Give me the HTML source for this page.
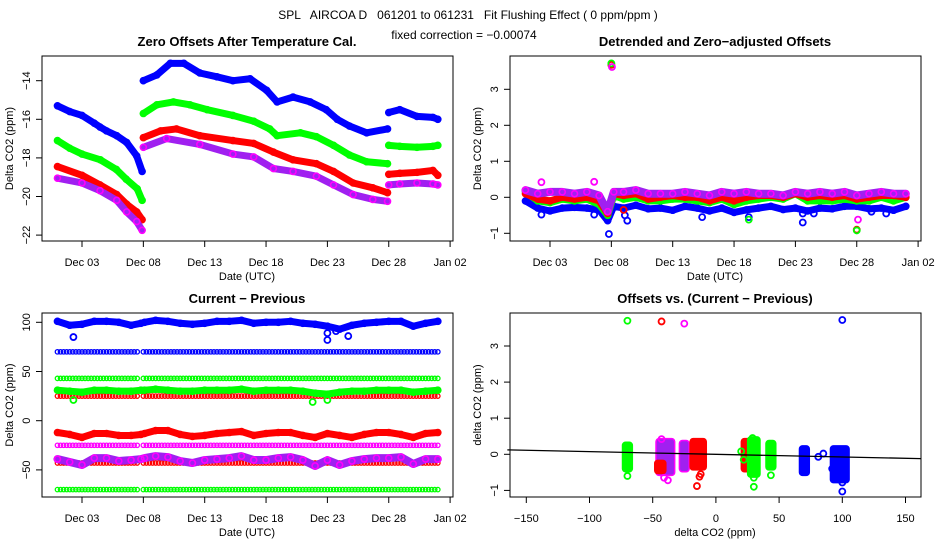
<!DOCTYPE html>
<html><head><meta charset="utf-8"><title>SPL AIRCOA D Fit Flushing Effect</title>
<style>
html,body{margin:0;padding:0;background:#fff;}
svg{display:block;font-family:"Liberation Sans",sans-serif;}
</style></head>
<body>
<svg id="chart" width="936" height="540" viewBox="0 0 936 540" xmlns="http://www.w3.org/2000/svg">
<rect width="936" height="540" fill="#fff"/>
<text x="468" y="19" font-size="12" text-anchor="middle" xml:space="preserve">SPL   AIRCOA D   061201 to 061231   Fit Flushing Effect ( 0 ppm/ppm )</text>
<text x="464" y="39" font-size="12" text-anchor="middle">fixed correction = −0.00074</text>
</svg>
<script>
// ---------- DATA ----------
const p1BlueDays  = [1,2,3,4,4.47,5,5.83,6.64,7.46,7.9,null,8.0,9.1,10.2,11.3,12.6,14.0,15.3,16.7,18.05,18.9,20.2,21.6,22.9,23.8,24.8,26.2,27.9,null,28.0,28.9,30.3,31.6,32.0];
const p1BlueVals  = [-15.3,-15.6,-15.8,-16.2,-16.4,-16.6,-16.85,-17.2,-17.9,-18.7,null,-14.0,-13.7,-13.1,-13.1,-13.6,-13.8,-14.0,-13.9,-14.5,-15.1,-14.85,-15.1,-15.5,-16.0,-16.35,-16.7,-16.5,null,-15.65,-15.5,-15.85,-15.9,-16.0];
const p1GreenDays = [1,2,3,4.5,5.8,6.6,7.5,7.9,null,8.0,9.1,10.45,11.8,13.2,15.3,17.0,18.3,18.9,20.8,22.1,23.5,24.8,26.2,27.9,null,28.0,28.9,30.3,31.6,32.0];
const p1GreenVals = [-17.1,-17.5,-17.8,-18.1,-18.6,-19.1,-19.6,-20.2,null,-15.7,-15.25,-15.1,-15.25,-15.5,-15.8,-16.1,-16.5,-16.85,-16.7,-16.9,-17.35,-17.85,-18.2,-18.3,null,-17.35,-17.4,-17.45,-17.4,-17.35];
const p1RedDays   = [1,3,4.47,5.83,6.64,7.46,7.9,null,8.0,9.4,10.7,12.6,15.3,17.0,18.6,20.2,22.1,23.5,25.1,26.7,27.9,null,28.0,28.9,30.3,31.6,32.0];
const p1RedVals   = [-18.45,-18.9,-19.4,-19.9,-20.4,-20.8,-21.2,null,-16.95,-16.6,-16.5,-16.85,-17.1,-17.25,-17.7,-18.1,-18.3,-18.7,-19.3,-19.55,-19.8,null,-18.85,-18.8,-18.75,-18.65,-18.9];
const p1PurpDays  = [1,3,4.47,5.83,6.64,7.46,7.9,null,8.0,9.9,12.6,15.3,17.0,18.6,20.2,22.1,23.5,25.1,26.7,27.9,null,28.0,28.9,30.3,31.6,32.0];
const p1PurpVals  = [-19.05,-19.3,-19.7,-20.2,-20.8,-21.3,-21.75,null,-17.45,-17.0,-17.3,-17.8,-17.95,-18.55,-18.7,-18.95,-19.4,-19.9,-20.15,-20.25,null,-19.4,-19.35,-19.3,-19.35,-19.4];
const p1YTicks = [-14,-16,-18,-20,-22];

const p2Days   = [1,2,3,4,5,6,7,7.7,8.2,9,10,11,12,13,14,15,16,17,18,19,20,21,22,23,24,25,26,27,28,29,30,31,32];
const p2Blue   = [-0.1,-0.3,-0.38,-0.3,-0.28,-0.3,-0.35,-0.65,-0.25,-0.3,-0.22,-0.32,-0.3,-0.36,-0.25,-0.3,-0.38,-0.3,-0.42,-0.35,-0.3,-0.25,-0.34,-0.3,-0.38,-0.3,-0.32,-0.25,-0.25,-0.32,-0.3,-0.36,-0.25];
const p2Green  = [0.15,-0.1,-0.15,-0.05,-0.1,-0.05,-0.2,-0.5,0.05,-0.05,0.0,-0.1,-0.1,-0.05,-0.05,-0.1,-0.15,-0.05,-0.2,-0.1,-0.05,0.0,-0.05,0.1,-0.1,-0.1,-0.1,-0.05,-0.1,-0.1,0.0,-0.1,0.0];
const p2Red    = [0.1,-0.05,-0.1,0.0,-0.05,0.0,-0.1,-0.45,0.1,0.05,0.1,-0.05,0.0,0.05,0.0,0.0,-0.1,0.0,-0.1,0.0,0.05,0.05,0.0,0.1,0.0,0.05,0.0,0.05,-0.05,0.0,0.05,0.05,0.0];
const p2Purp   = [0.2,0.1,0.15,0.15,0.1,0.15,0.05,-0.4,0.15,0.15,0.2,0.1,0.1,0.1,0.15,0.1,0.05,0.15,0.1,0.15,0.1,0.1,0.05,0.15,0.1,0.15,0.1,0.15,0.05,0.1,0.15,0.1,0.1];
const p2OutDays = [2.3,6.6,7.8,9.1,9.3,15.4,19.2,23.6,23.6,24.5,29.2,30.4,8.0,28.0,9.0,8.0,28.0,19.2,8.05,28.1,2.3,6.6];
const p2OutVals = [-0.48,-0.48,-1.02,-0.5,-0.65,-0.55,-0.55,-0.7,-0.45,-0.45,-0.4,-0.45,3.68,-0.9,-0.35,3.72,-0.92,-0.62,3.62,-0.62,0.42,0.43];
const p2OutCols = ['b','b','b','b','b','b','b','b','b','b','b','b','r','r','r','g','g','g','p','p','p','p'];
const p2YTicks = [3,2,1,0,-1];

const p3Days  = [1,2,3,4,5,6,7,7.8,8.1,9,10,11,12,13,14,15,16,17,18,19,20,21,22,23,24,25,26,27,28,29,30,31,32];
const p3Blue  = [101,97,98,101,101,100,97,99,100,102,101,99,98,99,101,101,102,99,100,100,101,99,98,96,93,97,99,100,101,101,96,99,101];
const p3Green = [31,30,29,31,31,30,30,31,31,32,31,30,30,31,31,31,32,30,31,31,31,30,28,27,29,30,30,31,31,31,29,30,31];
const p3Red   = [-12,-14,-17,-13,-13,-15,-15,-14,-13,-10,-10,-14,-16,-15,-13,-12,-11,-15,-13,-12,-12,-15,-17,-13,-15,-17,-14,-12,-12,-14,-17,-13,-12];
const p3Purp  = [-39,-42,-45,-38,-38,-41,-40,-39,-38,-36,-37,-41,-43,-40,-39,-38,-36,-40,-40,-38,-37,-40,-46,-40,-45,-41,-39,-38,-38,-37,-44,-39,-39];
const p3OutDays = [2.3,23.0,23.0,23.7,24.7,2.3,21.8,23.0];
const p3OutVals = [85,82,89,91,86,21,19,21];
const p3OutCols = ['b','b','b','b','b','g','g','g'];
const p3Levels    = [70,43,25,-25,-43,-70];
const p3LevelCols = ['b','g','r','p','r','g'];
const p3YTicks = [100,50,0,-50];

const p4ClusterX  = [-70,-40,-44,-25,-14,25,30,43.5,70,98];
const p4ClusterW  = [1.5,5,2,1.5,4,2.5,2.5,1.5,1.5,5];
const p4ClusterLo = [-0.4,-0.5,-0.45,-0.4,-0.35,-0.4,-0.55,-0.35,-0.5,-0.7];
const p4ClusterHi = [0.25,0.35,-0.25,0.3,0.35,0.35,0.4,0.3,0.15,0.15];
const p4ClusterC  = ['g','p','r','p','r','r','g','g','b','b'];
const p4PtX = [-70,-41,-38,-43,-12,-13,-15,30,30,20,22,43.5,100,100,81,85,92,-70,-43,-25,100,29];
const p4PtY = [-0.6,-0.65,-0.72,0.42,-0.55,-0.62,-0.88,-0.65,-0.9,0.08,-0.15,-0.58,-0.78,-1.03,-0.07,0.02,-0.4,3.7,3.68,3.62,3.72,0.45];
const p4PtC = ['g','p','p','p','r','r','r','g','g','g','g','g','b','b','b','b','b','g','r','p','b','g'];
const p4Slope = -0.00074, p4Intercept = 0.0;
const p4XTicks = [-150,-100,-50,0,50,100,150];
const p4YTicks = [3,2,1,0,-1];

const dateTicks = [3,8,13,18,23,28,33];
const dateLabels = ['Dec 03','Dec 08','Dec 13','Dec 18','Dec 23','Dec 28','Jan 02'];

// ---------- DRAW ----------
const NS = 'http://www.w3.org/2000/svg';
const svg = document.getElementById('chart');
const COL = {b:'#0000ff', g:'#00ff00', r:'#ff0000', p:'#ff00ff'};
const FILL = {b:'#0000ff', g:'#00ff00', r:'#ff0000', p:'#a020f0'};
function mk(tag, attrs, parent){
  const e = document.createElementNS(NS, tag);
  for (const k in attrs) e.setAttribute(k, attrs[k]);
  (parent || svg).appendChild(e);
  return e;
}
function xDay(ox, d){ return ox + 82 + (d - 3) * 12.27; }

function frame(ox, top, bottom, title, yTitle, xTitle, name){
  const g = mk('g', {});
  
  
  const box = mk('rect', {x: ox+42, y: top, width: 411, height: bottom-top, fill: 'none', stroke: '#000', 'stroke-width': 1}, g);
  
  
  const t = mk('text', {x: ox+247, y: top-10, 'font-size': 13, 'font-weight': 'bold', 'text-anchor': 'middle'}, g);
  t.textContent = title;
  
  
  const yt = mk('text', {x: 0, y: 0, 'font-size': 11, 'text-anchor': 'middle', transform: 'translate(' + (ox+13) + ',' + ((top+bottom)/2) + ') rotate(-90)'}, g);
  yt.textContent = yTitle;
  
  
  const xt = mk('text', {x: ox+247, y: bottom+39, 'font-size': 11, 'text-anchor': 'middle'}, g);
  xt.textContent = xTitle;
  
  
  return g;
}
function yAxis(g, ox, ticks, yf, name){
  const a = mk('line', {x1: ox+42, x2: ox+42, y1: yf(ticks[0]), y2: yf(ticks[ticks.length-1]), stroke: '#000'}, g);
  
  
  ticks.forEach(v => {
    const y = yf(v);
    const tk = mk('line', {x1: ox+36, x2: ox+42, y1: y, y2: y, stroke: '#000'}, g);
    
    
    const lb = mk('text', {x: 0, y: 0, 'font-size': 11, 'text-anchor': 'middle', transform: 'translate(' + (ox+30) + ',' + y + ') rotate(-90)'}, g);
    lb.textContent = v < 0 ? '\u2212' + Math.abs(v) : String(v);
    
    
  });
}
function xAxis(g, bottom, ticks, labels, xf, name){
  const a = mk('line', {x1: xf(ticks[0]), x2: xf(ticks[ticks.length-1]), y1: bottom, y2: bottom, stroke: '#000'}, g);
  
  
  ticks.forEach((v, i) => {
    const x = xf(v);
    const tk = mk('line', {x1: x, x2: x, y1: bottom, y2: bottom+6, stroke: '#000'}, g);
    
    
    const lb = mk('text', {x: x, y: bottom+25, 'font-size': 11, 'text-anchor': 'middle'}, g);
    lb.textContent = labels[i];
    
    
  });
}
function band(g, days, vals, xf, yf, c, w, name){
  let segs = [], cur = [];
  days.forEach((d, i) => {
    if (d === null || vals[i] === null) { if (cur.length) segs.push(cur); cur = []; }
    else cur.push([xf(d), yf(vals[i])]);
  });
  if (cur.length) segs.push(cur);
  segs.forEach(s => {
    const pl = mk('polyline', {points: s.map(p => p.join(',')).join(' '), fill: 'none', stroke: FILL[c], 'stroke-width': w, 'stroke-linejoin': 'round', 'stroke-linecap': 'round'}, g);
    
    
    s.forEach(p => {
      const ci = mk('circle', {cx: p[0], cy: p[1], r: 3, fill: 'none', stroke: COL[c], 'stroke-width': 1.6}, g);
      
      
    });
  });
}
function pt(g, x, y, c, r, name){
  const ci = mk('circle', {cx: x, cy: y, r: r, fill: 'none', stroke: COL[c], 'stroke-width': 1.8}, g);
  
  
}

(function(){
  const ox = 0, top = 56, bottom = 241;
  const g = frame(ox, top, bottom, 'Zero Offsets After Temperature Cal.', 'Delta CO2 (ppm)', 'Date (UTC)', 'zero-offsets');
  const yf = v => 80.7 + (-14 - v) * 19.3;
  const xf = d => xDay(ox, d);
  yAxis(g, ox, p1YTicks, yf, 'zero-offsets');
  xAxis(g, bottom, dateTicks, dateLabels, xf, 'zero-offsets');
  band(g, p1BlueDays, p1BlueVals, xf, yf, 'b', 7, 'zero-offsets-blue');
  band(g, p1GreenDays, p1GreenVals, xf, yf, 'g', 7, 'zero-offsets-green');
  band(g, p1RedDays, p1RedVals, xf, yf, 'r', 7, 'zero-offsets-red');
  band(g, p1PurpDays, p1PurpVals, xf, yf, 'p', 7, 'zero-offsets-purple');
})();

(function(){
  const ox = 468, top = 56, bottom = 241;
  const g = frame(ox, top, bottom, 'Detrended and Zero\u2212adjusted Offsets', 'Delta CO2 (ppm)', 'Date (UTC)', 'detrended');
  const yf = v => 197.3 - v * 36;
  const xf = d => xDay(ox, d);
  yAxis(g, ox, p2YTicks, yf, 'detrended');
  xAxis(g, bottom, dateTicks, dateLabels, xf, 'detrended');
  band(g, p2Days, p2Blue, xf, yf, 'b', 7, 'detrended-blue');
  band(g, p2Days, p2Green, xf, yf, 'g', 7, 'detrended-green');
  band(g, p2Days, p2Red, xf, yf, 'r', 7, 'detrended-red');
  band(g, p2Days, p2Purp, xf, yf, 'p', 8, 'detrended-purple');
  p2OutDays.forEach((d, i) => pt(g, xf(d), yf(p2OutVals[i]), p2OutCols[i], 3, 'detrended-outlier'));
})();

(function(){
  const ox = 0, top = 313, bottom = 497;
  const g = frame(ox, top, bottom, 'Current \u2212 Previous', 'Delta CO2 (ppm)', 'Date (UTC)', 'current-previous');
  const yf = v => 420.7 - v * 0.984;
  const xf = d => xDay(ox, d);
  yAxis(g, ox, p3YTicks, yf, 'current-previous');
  xAxis(g, bottom, dateTicks, dateLabels, xf, 'current-previous');
  p3Levels.forEach((lv, k) => {
    for (let d = 1; d <= 32.001; d += 0.25) {
      if (d > 7.7 && d < 8.0) continue;
      const ci = mk('circle', {cx: xf(d), cy: yf(lv), r: 2.2, fill: 'none', stroke: COL[p3LevelCols[k]], 'stroke-width': 1.3}, g);
      
      
    }
  });
  band(g, p3Days, p3Blue, xf, yf, 'b', 7, 'current-previous-blue');
  band(g, p3Days, p3Green, xf, yf, 'g', 7, 'current-previous-green');
  band(g, p3Days, p3Red, xf, yf, 'r', 7, 'current-previous-red');
  band(g, p3Days, p3Purp, xf, yf, 'p', 8, 'current-previous-purple');
  p3OutDays.forEach((d, i) => pt(g, xf(d), yf(p3OutVals[i]), p3OutCols[i], 3, 'current-previous-outlier'));
})();

(function(){
  const ox = 468, top = 313, bottom = 497;
  const g = frame(ox, top, bottom, 'Offsets vs. (Current \u2212 Previous)', 'delta CO2 (ppm)', 'delta CO2 (ppm)', 'offsets-vs-diff');
  const yf = v => 454.3 - v * 36.1;
  const xf = v => 715.9 + v * 1.264;
  yAxis(g, ox, p4YTicks, yf, 'offsets-vs-diff');
  xAxis(g, bottom, p4XTicks, p4XTicks.map(v => v < 0 ? '\u2212' + Math.abs(v) : String(v)), xf, 'offsets-vs-diff');
  p4ClusterX.forEach((x, i) => {
    const c = p4ClusterC[i];
    const x0 = xf(x - p4ClusterW[i]) - 3, x1 = xf(x + p4ClusterW[i]) + 3;
    const y0 = yf(p4ClusterHi[i]) - 3, y1 = yf(p4ClusterLo[i]) + 3;
    const r = mk('rect', {x: x0, y: y0, width: x1 - x0, height: y1 - y0, rx: 3, fill: FILL[c], stroke: COL[c], 'stroke-width': 1.5}, g);
    
    
  });
  p4PtX.forEach((x, i) => pt(g, xf(x), yf(p4PtY[i]), p4PtC[i], 3, 'offsets-vs-diff-point'));
  const xa = -165, xb = 162;
  const ln = mk('line', {x1: xf(xa), y1: yf(p4Intercept + p4Slope * xa), x2: xf(xb), y2: yf(p4Intercept + p4Slope * xb), stroke: '#000', 'stroke-width': 1.3}, g);
  
  
})();
</script>
</body></html>
